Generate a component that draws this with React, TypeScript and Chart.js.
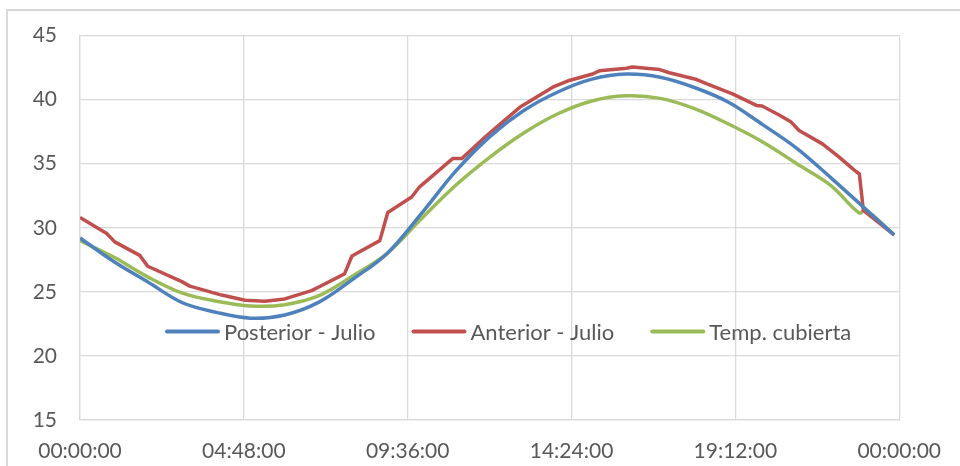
import React, { useEffect, useRef } from "react";
import { Chart, registerables } from "chart.js";

Chart.register(...registerables);

// ---- data (x in minutes after midnight) ----
const seriesLabels = ["Posterior - Julio", "Anterior - Julio", "Temp. cubierta"];
const seriesColors = ["#4F81BD", "#C0504D", "#9BBB59"];

const posteriorTimes = [0, 60, 120, 180, 240, 300, 360, 420, 480, 540, 600, 660, 720, 780, 840, 900, 960, 1020, 1080, 1140, 1200, 1260, 1320, 1380, 1431];
const posteriorValues = [29.2, 27.35, 25.75, 24.15, 23.4, 22.95, 23.2, 24.2, 26.0, 28.0, 31.1, 34.4, 37.1, 39.15, 40.6, 41.6, 42.0, 41.75, 40.95, 39.8, 38.05, 36.2, 33.9, 31.5, 29.45];

const anteriorTimes = [0, 47, 61, 105, 119, 179, 193, 249, 290, 325, 360, 407, 425, 465, 478, 527, 541, 583, 597, 655, 671, 715, 773, 831, 860, 901, 913, 961, 971, 1019, 1036, 1084, 1101, 1147, 1189, 1199, 1229, 1250, 1264, 1305, 1335, 1361, 1370, 1377, 1431];
const anteriorValues = [30.8, 29.55, 28.9, 27.85, 27.0, 25.8, 25.45, 24.75, 24.35, 24.27, 24.45, 25.1, 25.5, 26.4, 27.8, 29.0, 31.2, 32.4, 33.2, 35.4, 35.4, 37.2, 39.4, 40.97, 41.5, 42.0, 42.25, 42.45, 42.55, 42.35, 42.1, 41.57, 41.25, 40.45, 39.55, 39.5, 38.8, 38.25, 37.6, 36.55, 35.5, 34.5, 34.2, 31.35, 29.45];

const cubiertaTimes = [0, 60, 120, 180, 240, 300, 360, 420, 480, 540, 600, 660, 720, 780, 840, 900, 960, 1020, 1080, 1140, 1200, 1260, 1320, 1370, 1381, 1431];
const cubiertaValues = [29.0, 27.7, 26.15, 24.9, 24.27, 23.9, 24.0, 24.7, 26.25, 28.0, 30.7, 33.3, 35.5, 37.4, 38.9, 39.9, 40.3, 40.1, 39.3, 38.1, 36.7, 35.0, 33.3, 31.15, 31.4, 29.45];

const seriesTension = [0.35, 0, 0.35];

const xMin = 0;
const xMax = 1440;
const xStep = 288;
const yMin = 15;
const yMax = 45;
const yStep = 5;

const toPoints = (xs: number[], ys: number[]) => xs.map((x, i) => ({ x, y: ys[i] }));

const fmtTime = (m: number) => {
  const mm = Math.round(m) % 1440;
  const h = Math.floor(mm / 60);
  const mi = mm % 60;
  return `${String(h).padStart(2, "0")}:${String(mi).padStart(2, "0")}:00`;
};

const FONT = "Lato, 'Open Sans', sans-serif";
const TEXT = "#595959";
const GRID = "#D9D9D9";

const legendPlugin = {
  id: "insideLegend",
  afterDatasetsDraw(chart: any) {
    const ctx = chart.ctx;
    const y = chart.scales.y.getPixelForValue(21.9);
    let x = 167;
    const lineLen = 51;
    ctx.save();
    ctx.font = `22px ${FONT}`;
    ctx.textBaseline = "middle";
    ctx.textAlign = "left";
    chart.data.datasets.forEach((ds: any) => {
      ctx.strokeStyle = ds.borderColor;
      ctx.lineWidth = 4;
      ctx.lineCap = "round";
      ctx.beginPath();
      ctx.moveTo(x, y);
      ctx.lineTo(x + lineLen, y);
      ctx.stroke();
      x += lineLen + 6;
      ctx.fillStyle = TEXT;
      ctx.fillText(ds.label, x, y + 1);
      x += ctx.measureText(ds.label).width + 38;
    });
    ctx.restore();
  },
};

export default function App() {
  const ref = useRef<HTMLCanvasElement | null>(null);
  useEffect(() => {
    if (!ref.current) return;
    const series = [
      toPoints(posteriorTimes, posteriorValues),
      toPoints(anteriorTimes, anteriorValues),
      toPoints(cubiertaTimes, cubiertaValues),
    ];
    const chart = new Chart(ref.current, {
      type: "line",
      data: {
        datasets: series.map((d, i) => ({
          label: seriesLabels[i],
          data: d,
          borderColor: seriesColors[i],
          backgroundColor: seriesColors[i],
          borderWidth: 3.5,
          pointRadius: 0,
          tension: seriesTension[i],
          borderJoinStyle: "round" as const,
          fill: false,
        })),
      },
      options: {
        animation: false,
        responsive: false,
        maintainAspectRatio: false,
        layout: { padding: { top: 35, right: 60, left: 0, bottom: 0 } },
        plugins: { legend: { display: false }, tooltip: { enabled: false } },
        scales: {
          x: {
            type: "linear",
            min: xMin,
            max: xMax,
            afterFit: (s: any) => { s.height = 46; },
            afterBuildTicks: (s: any) => {
              const t = [];
              for (let v = xMin; v <= xMax; v += xStep) t.push({ value: v });
              s.ticks = t;
            },
            ticks: {
              stepSize: xStep,
              callback: (v: any) => fmtTime(Number(v)),
              color: TEXT,
              font: { family: FONT, size: 21 },
              padding: 19,
              maxRotation: 0,
              autoSkip: false,
            },
            grid: { color: GRID, lineWidth: 1.3, drawTicks: false },
            border: { color: GRID, width: 1.3 },
          },
          y: {
            type: "linear",
            min: yMin,
            max: yMax,
            afterFit: (s: any) => { s.width = 80; },
            ticks: {
              stepSize: yStep,
              color: TEXT,
              font: { family: FONT, size: 21 },
              padding: 23,
            },
            grid: { color: GRID, lineWidth: 1.3, drawTicks: false },
            border: { color: GRID, width: 1.3 },
          },
        },
      },
      plugins: [legendPlugin],
    });
    return () => chart.destroy();
  }, []);

  return (
    <div style={{ position: "fixed", left: 0, top: 0, width: 960, height: 466, overflow: "hidden", background: "#fff" }}>
      <div style={{ position: "absolute", left: 6, top: 9, width: 1100, height: 600, border: "2px solid #D9D9D9" }} />
      <canvas ref={ref} width={960} height={466} style={{ position: "absolute", left: 0, top: 0, width: 960, height: 466 }} />
    </div>
  );
}
